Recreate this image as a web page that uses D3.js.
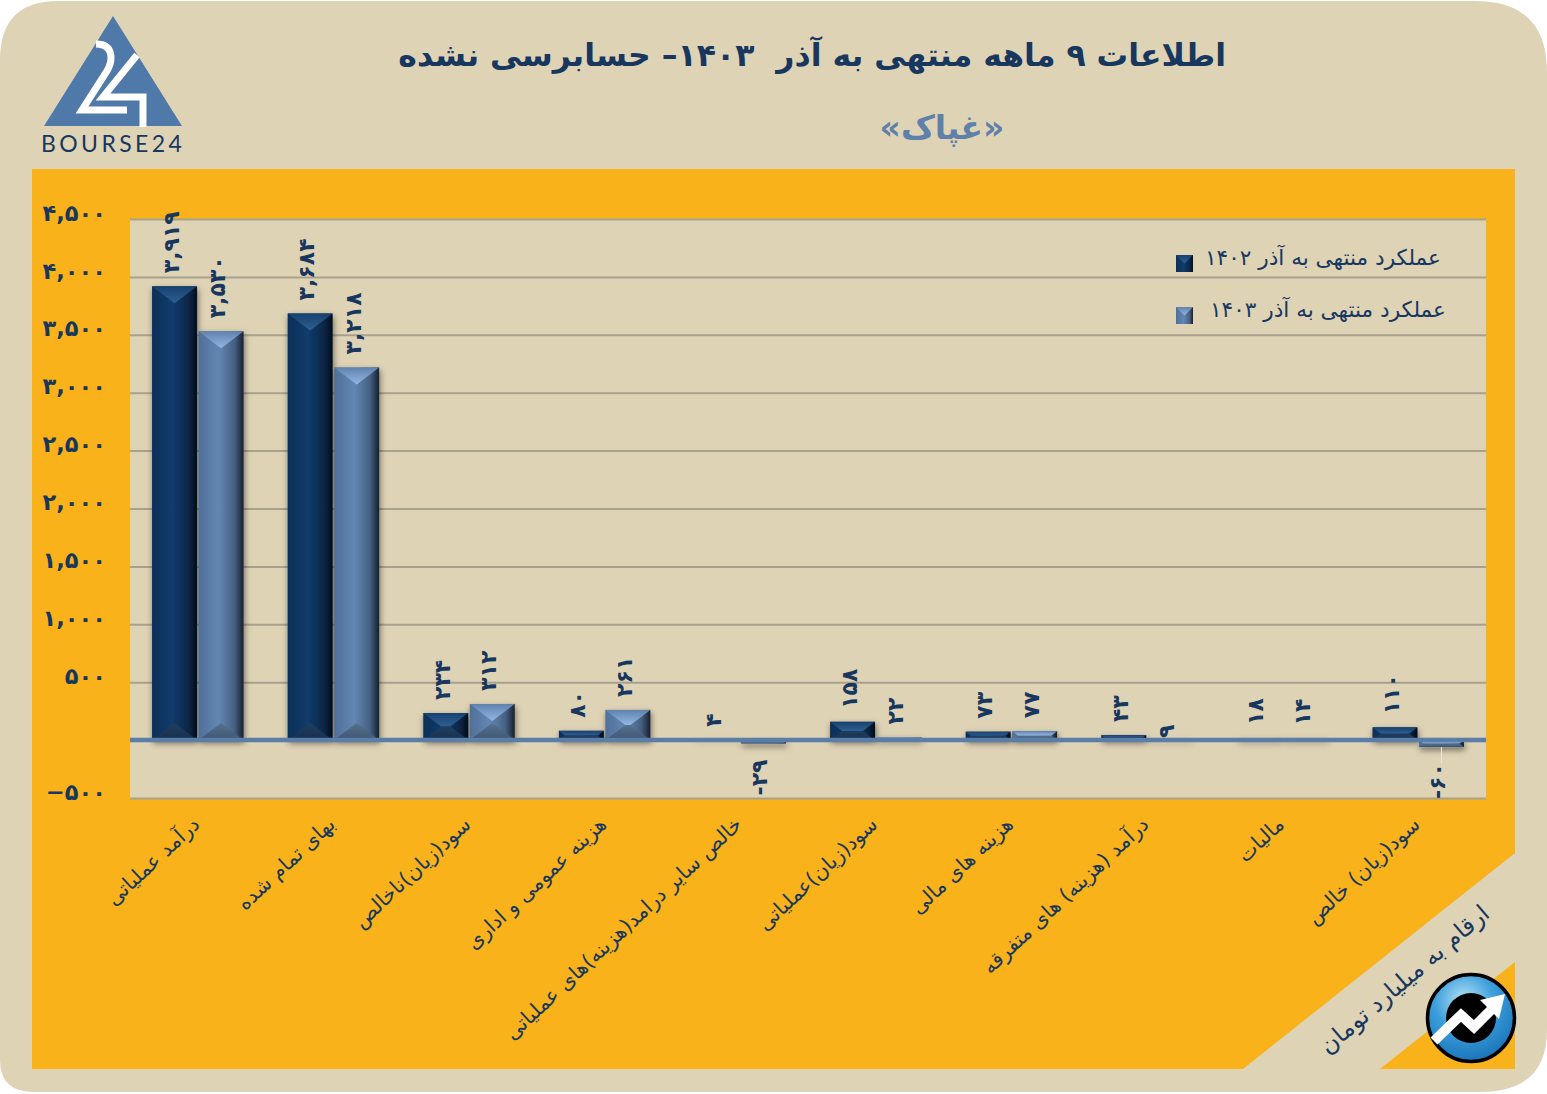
<!DOCTYPE html>
<html lang="fa">
<head>
<meta charset="utf-8">
<script src="https://cdn.jsdelivr.net/npm/d3@7"></script>
<style>
  html, body { margin: 0; padding: 0; background: #fff; }
  svg { display: block; }
  text { font-family: "DejaVu Sans", sans-serif; fill: #17375e; }
</style>
</head>
<body>
<div id="chart"></div>
<script>
const categories = [
  "درآمد عملیاتی",
  "بهای تمام شده",
  "سود(زیان)ناخالص",
  "هزینه عمومی و اداری",
  "خالص سایر درامد(هزینه)های عملیاتی",
  "سود(زیان)عملیاتی",
  "هزینه های مالی",
  "درآمد (هزینه) های متفرقه",
  "مالیات",
  "سود(زیان) خالص"
];
const values1402 = [3919, 3684, 234, 80, 4, 158, 73, 43, 18, 110];
const values1403 = [3530, 3218, 312, 261, -29, 22, 77, 9, 14, -60];
const seriesNames = ["عملکرد منتهی به آذر ۱۴۰۲", "عملکرد منتهی به آذر ۱۴۰۳"];
const yTicks = [-500, 500, 1000, 1500, 2000, 2500, 3000, 3500, 4000, 4500];

const titleText = "اطلاعات ۹ ماهه منتهی به آذر  ۱۴۰۳– حسابرسی نشده";
const companyText = "«غپاک»";
const unitText = "ارقام به میلیارد تومان";

const width = 1547, height = 1094;
const plot = { left: 130, right: 1486, top: 219, bottom: 798 };

const persian = s => String(s).replace(/\d/g, d => "۰۱۲۳۴۵۶۷۸۹"[d]);
const fmt = v => persian(d3.format(",")(v));

const svg = d3.select("#chart").append("svg")
  .attr("width", width)
  .attr("height", height);

const defs = svg.append("defs");

function linear(id, stops, horizontal) {
  const g = defs.append("linearGradient").attr("id", id)
    .attr("x1", 0).attr("y1", 0)
    .attr("x2", horizontal ? 1 : 0).attr("y2", horizontal ? 0 : 1);
  stops.forEach(s => g.append("stop").attr("offset", s[0]).attr("stop-color", s[1]));
}

linear("dark-body", [[0, "#0e2f57"], [0.45, "#123c6c"], [0.8, "#0b2747"], [1, "#030e1e"]], true);
linear("dark-top", [[0, "#17406e"], [1, "#2f6092"]]);
linear("dark-bottom", [[0, "#1f3f5f"], [1, "#17304e"]]);
linear("light-body", [[0, "#4f6f98"], [0.45, "#6387b2"], [0.8, "#465f82"], [1, "#15202f"]], true);
linear("light-top", [[0, "#5f82ad"], [1, "#94b6e4"]]);
linear("light-bottom", [[0, "#567290"], [1, "#3f556f"]]);

const blue = defs.append("radialGradient").attr("id", "icon-blue")
  .attr("cx", 0.42).attr("cy", 0.3).attr("r", 0.75);
blue.append("stop").attr("offset", 0).attr("stop-color", "#b8e4f5");
blue.append("stop").attr("offset", 0.45).attr("stop-color", "#3d9fdc");
blue.append("stop").attr("offset", 1).attr("stop-color", "#1670b4");

const shadow = defs.append("filter").attr("id", "bar-shadow")
  .attr("filterUnits", "userSpaceOnUse")
  .attr("x", 0).attr("y", 0).attr("width", width).attr("height", height);
shadow.append("feDropShadow")
  .attr("dx", 1).attr("dy", 3).attr("stdDeviation", 3)
  .attr("flood-color", "#000").attr("flood-opacity", 0.5);

// page and panels
svg.append("path")
  .attr("d", "M0 60 Q0 1 58 1 H1475 Q1547 1 1547 72 V1030 Q1547 1092 1480 1092 H34 Q0 1092 0 1060 Z")
  .attr("fill", "#dfd3b6");
svg.append("path")
  .attr("d", "M32 169 H1515 V853 L1243 1069 H32 Z")
  .attr("fill", "#f9b219");
svg.append("path")
  .attr("d", "M1515 962 V1069 H1380 Z")
  .attr("fill", "#f9b219");
svg.append("rect")
  .attr("x", plot.left).attr("y", plot.top)
  .attr("width", plot.right - plot.left).attr("height", plot.bottom - plot.top)
  .attr("fill", "#dfd3b6");

// scales
const x = d3.scaleBand().domain(categories).range([plot.left, plot.right]);
const y = d3.scaleLinear().domain([-500, 4500]).range([plot.bottom, plot.top]);
const barWidth = 45, barGap = 1.5;

// grid + y labels
const yAxis = svg.append("g")
  .attr("transform", `translate(${plot.left},0)`)
  .call(d3.axisLeft(y).tickValues(yTicks).tickSize(plot.left - plot.right).tickPadding(26).tickFormat(fmt));
yAxis.select(".domain").remove();
yAxis.selectAll("line").attr("stroke", "#a8a18e").attr("stroke-width", 2);
yAxis.selectAll("text")
  .attr("x", -24)
  .attr("dy", "0.05em")
  .attr("direction", "ltr")
  .attr("font-size", 22.5)
  .attr("font-weight", "bold")
  .style("fill", "#17375e");

// bars
const rows = categories.flatMap((c, i) => [
  { cat: c, v: values1402[i], offset: -barWidth - barGap / 2, key: "dark" },
  { cat: c, v: values1403[i], offset: barGap / 2, key: "light" }
]);

function drawBevel(g, bx, by, w, h, key) {
  g.append("rect").attr("x", bx).attr("y", by).attr("width", w).attr("height", h)
    .attr("fill", `url(#${key}-body)`);
  const dy = Math.min(17, h / 2);
  const dx = Math.min(w / 2, dy * 1.32);
  g.append("path")
    .attr("d", `M${bx} ${by} H${bx + w} L${bx + w - dx} ${by + dy} H${bx + dx} Z`)
    .attr("fill", `url(#${key}-top)`);
  g.append("path")
    .attr("d", `M${bx} ${by + h} H${bx + w} L${bx + w - dx} ${by + h - dy} H${bx + dx} Z`)
    .attr("fill", `url(#${key}-bottom)`);
}

const bars = svg.append("g");
rows.forEach(d => {
  const bx = x(d.cat) + x.bandwidth() / 2 + d.offset;
  const top = y(Math.max(d.v, 0)), bottom = y(Math.min(d.v, 0));
  const g = bars.append("g").attr("filter", "url(#bar-shadow)");
  drawBevel(g, bx, top, barWidth, bottom - top, d.key);
});

// zero line over the bars
svg.append("line")
  .attr("x1", plot.left).attr("x2", plot.right)
  .attr("y1", y(0)).attr("y2", y(0))
  .attr("stroke", "#5b7ea8").attr("stroke-width", 4.5);

// value labels
const labels = svg.append("g");
rows.forEach(d => {
  const cx = x(d.cat) + x.bandwidth() / 2 + d.offset + barWidth / 2 + 4;
  const gap = d.v === 9 ? 1 : 13;
  const ly = d.v < 0 ? y(d.v) + 16 : y(d.v) - gap;
  labels.append("text")
    .attr("transform", `translate(${cx},${ly}) rotate(-90)`)
    .attr("direction", "ltr")
    .attr("text-anchor", d.v < 0 ? "end" : "start")
    .attr("font-size", 22)
    .attr("font-weight", "bold")
    .text((d.v < 0 ? "-" : "") + fmt(Math.abs(d.v)));
  if (d.v === -60) {
    labels.append("line")
      .attr("x1", cx - 4).attr("x2", cx - 4)
      .attr("y1", y(d.v)).attr("y2", ly)
      .attr("stroke", "#efe8d6").attr("stroke-width", 1);
  }
});

// category labels
const xAxis = svg.append("g")
  .attr("transform", `translate(0,${plot.bottom})`)
  .call(d3.axisBottom(x).tickSize(0).tickFormat(d => d));
xAxis.select(".domain").remove();
xAxis.selectAll("text")
  .attr("direction", "rtl")
  .attr("text-anchor", "start")
  .attr("x", 0).attr("y", 0).attr("dy", 0)
  .attr("transform", "translate(3,28) rotate(-43)")
  .attr("font-size", 20.4)
  .style("fill", "#17375e");

// legend
seriesNames.forEach((name, i) => {
  const ly = 255 + i * 52;
  const g = svg.append("g");
  const sw = 17;
  g.append("rect").attr("x", 1176).attr("y", ly).attr("width", sw).attr("height", sw)
    .attr("fill", `url(#${i ? "light" : "dark"}-body)`);
  g.append("path")
    .attr("d", `M1176 ${ly} h${sw} l-${sw / 2} ${sw / 2} Z`)
    .attr("fill", `url(#${i ? "light" : "dark"}-top)`);
  svg.append("text")
    .attr("x", i ? 1446 : 1441).attr("y", ly + 10)
    .attr("direction", "rtl")
    .attr("text-anchor", "start")
    .attr("font-size", 21.6)
    .text(name);
});

// titles
svg.append("text")
  .attr("x", 1226).attr("y", 66)
  .attr("direction", "rtl")
  .attr("text-anchor", "start")
  .attr("font-size", 31.5)
  .attr("font-weight", "bold")
  .style("white-space", "pre")
  .text(titleText);
svg.append("text")
  .attr("x", 942).attr("y", 139)
  .attr("direction", "rtl")
  .attr("text-anchor", "middle")
  .attr("font-size", 33)
  .attr("font-weight", "bold")
  .style("fill", "#5f80a8")
  .text(companyText);
svg.append("text")
  .attr("transform", "translate(1491,916) rotate(-40.5)")
  .attr("direction", "rtl")
  .attr("text-anchor", "start")
  .attr("font-size", 23.8)
  .text(unitText);

// bourse24 logo
const logo = svg.append("g");
logo.append("path").attr("d", "M113 16 L182 126 H44 Z").attr("fill", "#4f79a8");
logo.append("path")
  .attr("d", "M96 44 Q111 44 111 58 Q111 64 107 71 L82 110 H127")
  .attr("fill", "none").attr("stroke", "#fff").attr("stroke-width", 7);
logo.append("path")
  .attr("d", "M137 55 L103 97 H143 V127")
  .attr("fill", "none").attr("stroke", "#fff").attr("stroke-width", 7);
logo.append("text")
  .attr("x", 41).attr("y", 152)
  .attr("font-size", 23)
  .attr("letter-spacing", 3.4)
  .style("font-family", "Lato, sans-serif")
  .text("BOURSE24");

// corner icon
const icon = svg.append("g");
icon.append("circle").attr("cx", 1471).attr("cy", 1018).attr("r", 43.5)
  .attr("fill", "url(#icon-blue)").attr("stroke", "#000").attr("stroke-width", 3.5);
icon.append("circle").attr("cx", 1471).attr("cy", 1018).attr("r", 25).attr("fill", "#000");
icon.append("path")
  .attr("d", "M1434 1041 L1461 1015 L1474 1027 L1496 1005")
  .attr("fill", "none").attr("stroke", "#fff").attr("stroke-width", 10);
icon.append("path").attr("d", "M1505 994 L1499 1019 L1480 1000 Z").attr("fill", "#fff");
</script>
</body>
</html>
